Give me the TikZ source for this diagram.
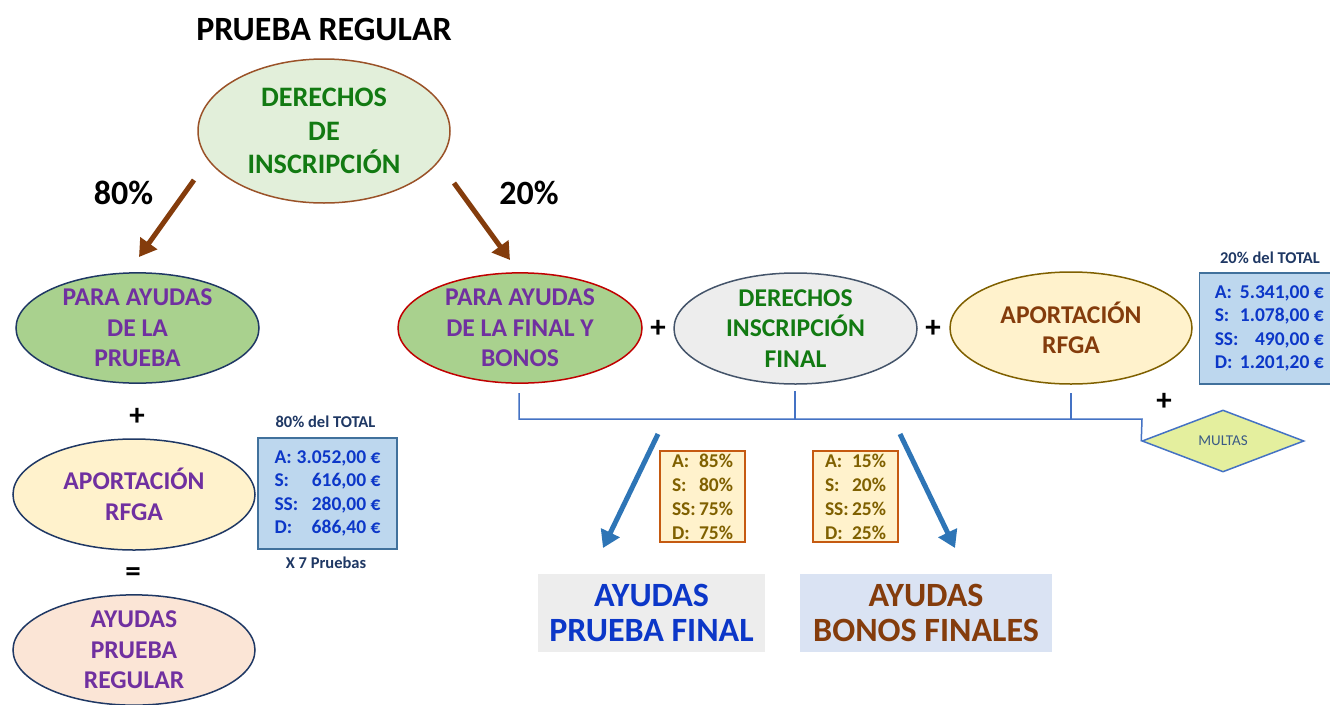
\documentclass[tikz,border=0pt]{standalone}
\usepackage{fontspec}
\setmainfont{Carlito}
\usetikzlibrary{shapes.geometric,arrows.meta}
\definecolor{brownarr}{HTML}{843C0C}
\definecolor{topfill}{HTML}{E2EFDA}
\definecolor{topdraw}{HTML}{9A5228}
\definecolor{greentxt}{HTML}{127A12}
\definecolor{purpletxt}{HTML}{7030A0}
\definecolor{greenfill}{HTML}{A9D18E}
\definecolor{navy}{HTML}{1F3864}
\definecolor{yellowfill}{HTML}{FFF2CC}
\definecolor{peachfill}{HTML}{FBE5D6}
\definecolor{bluefill}{HTML}{BDD7EE}
\definecolor{blueborder}{HTML}{41719C}
\definecolor{bluetxt}{HTML}{0C37C8}
\definecolor{redborder}{HTML}{C00000}
\definecolor{greyfill}{HTML}{EDEDED}
\definecolor{greyborder}{HTML}{44546A}
\definecolor{goldborder}{HTML}{7F6000}
\definecolor{browntxt}{HTML}{843C0C}
\definecolor{bracketblue}{HTML}{4472C4}
\definecolor{limefill}{HTML}{E4EF9E}
\definecolor{multastxt}{HTML}{3A5A85}
\definecolor{bluearr}{HTML}{2E75B6}
\definecolor{orangeborder}{HTML}{C55A11}
\definecolor{goldtxt}{HTML}{7F6000}
\definecolor{palebluefill}{HTML}{DAE3F3}
\newcommand{\kvline}[3]{\makebox[#1][l]{#2\hfill #3}}
\tikzset{
  ell/.style={ellipse, inner sep=0pt, line width=1.5pt, align=center,
    font=\fontsize{25.6}{30.5}\selectfont\bfseries},
  bigtxt/.style={font=\fontsize{34}{40}\selectfont\bfseries, inner sep=0pt},
  signtxt/.style={font=\fontsize{31}{36}\selectfont\bfseries, inner sep=0pt},
  smalltxt/.style={font=\fontsize{16.5}{20}\selectfont\bfseries, text=navy, inner sep=0pt},
  valbox/.style={rectangle, fill=bluefill, draw=blueborder, line width=1.5pt,
    text=bluetxt, align=center, inner sep=0pt, font=\fontsize{19.5}{23.5}\selectfont\bfseries},
  pctbox/.style={rectangle, fill=yellowfill, draw=orangeborder, line width=1.5pt,
    text=goldtxt, align=center, inner sep=0pt, minimum width=85pt, minimum height=91pt,
    font=\fontsize{19.5}{24}\selectfont\bfseries},
  resbox/.style={rectangle, inner sep=0pt, align=center, minimum height=78pt,
    font=\fontsize{34}{35}\selectfont\bfseries},
  brownarrow/.style={draw=brownarr, line width=5pt, -{Triangle[width=20pt,length=17pt]}},
  bluearrow/.style={draw=bluearr, line width=5pt, -{Triangle[width=20pt,length=17pt]}},
  bracket/.style={draw=bracketblue, line width=1.5pt}
}
\begin{document}
\begin{tikzpicture}[x=1pt,y=-1pt]
\path[use as bounding box, fill=white] (0,0) rectangle (1330,704);

% title
\node[bigtxt, anchor=base] (title) at (324,40) {PRUEBA REGULAR};

% top ellipse
\node[ell, fill=topfill, draw=topdraw, text=greentxt, minimum width=252pt, minimum height=144pt,
  font=\fontsize{28.2}{33.7}\selectfont\bfseries] (der) at (324,131) {DERECHOS\\DE\\INSCRIPCIÓN};

% percentage labels
\node[bigtxt, anchor=base] (p80) at (123.5,204) {80\%};
\node[bigtxt, anchor=base] (p20) at (529,204) {20\%};

% brown arrows
\coordinate (a80s) at (194,180);
\coordinate (a80e) at (139,257);
\coordinate (a20s) at (454,183);
\coordinate (a20e) at (510,260);
\draw[brownarrow] (a80s) -- (a80e);
\draw[brownarrow] (a20s) -- (a20e);

% left column
\node[ell, fill=greenfill, draw=navy, text=purpletxt, minimum width=243pt, minimum height=110pt]
  (pap) at (137.5,328) {PARA AYUDAS\\DE LA\\PRUEBA};
\node[signtxt] (plus1) at (137,417) {+};
\node[ell, fill=yellowfill, draw=navy, text=purpletxt, minimum width=242pt, minimum height=111pt]
  (apl) at (134,494.5) {APORTACIÓN\\RFGA};
\node[signtxt] (eq) at (133,575) {=};
\node[ell, fill=peachfill, draw=navy, text=purpletxt, minimum width=242pt, minimum height=106pt]
  (apr) at (134,650) {AYUDAS\\PRUEBA\\REGULAR};

\node[smalltxt, anchor=base] (t80) at (325.5,427.5) {80\% del TOTAL};
\node[valbox, minimum width=139pt, minimum height=111pt] (box80) at (327.5,493.5)
  {\kvline{106pt}{A:}{3.052,00 €}\\\kvline{106pt}{S:}{616,00 €}\\\kvline{106pt}{SS:}{280,00 €}\\\kvline{106pt}{D:}{686,40 €}};
\node[smalltxt, anchor=base] (x7) at (326,568) {X 7 Pruebas};

% right row
\node[ell, fill=greenfill, draw=redborder, text=purpletxt, minimum width=244pt, minimum height=110pt]
  (paf) at (520,328) {PARA AYUDAS\\DE LA FINAL Y\\BONOS};
\node[signtxt] (plus2) at (658,329) {+};
\node[ell, fill=greyfill, draw=greyborder, text=greentxt, minimum width=243pt, minimum height=111pt]
  (dif) at (795.5,328.5) {DERECHOS\\INSCRIPCIÓN\\FINAL};
\node[signtxt] (plus3) at (933,329) {+};
\node[ell, fill=yellowfill, draw=goldborder, text=browntxt, minimum width=242pt, minimum height=112pt]
  (apf) at (1071,328) {APORTACIÓN\\RFGA};

\node[smalltxt, anchor=base] (t20) at (1270,263) {20\% del TOTAL};
\node[valbox, minimum width=140pt, minimum height=111pt, anchor=west] (box20) at (1198.5,328.5)
  {\kvline{109pt}{A:}{5.341,00 €}\\\kvline{109pt}{S:}{1.078,00 €}\\\kvline{109pt}{SS:}{490,00 €}\\\kvline{109pt}{D:}{1.201,20 €}};

\node[signtxt] (plus4) at (1164,402) {+};

% multas diamond
\node[diamond, aspect=2.64, fill=limefill, draw=bracketblue, line width=1.5pt, inner sep=0pt,
  minimum width=162pt, minimum height=62pt, text=multastxt,
  font=\fontsize{15}{18}\selectfont] (mul) at (1223,441) {MULTAS};

% bracket
\coordinate (bl) at (519,393);
\coordinate (blh) at (519,419);
\coordinate (bm) at (795,391);
\coordinate (bmh) at (795,419);
\coordinate (br) at (1071,393);
\coordinate (brh) at (1071,419);
\coordinate (be) at (1142,419);
\draw[bracket] (bl) -- (blh) -- (be) -- (mul.west);
\draw[bracket] (bm) -- (bmh);
\draw[bracket] (br) -- (brh);

% blue arrows
\coordinate (b1s) at (658,434);
\coordinate (b1e) at (603,548);
\coordinate (b2s) at (900,434);
\coordinate (b2e) at (955,548);
\draw[bluearrow] (b1s) -- (b1e);
\draw[bluearrow] (b2s) -- (b2e);

% percentage boxes
\node[pctbox] (pc1) at (702.5,496.5)
  {\kvline{61pt}{A:}{85\%}\\\kvline{61pt}{S:}{80\%}\\\kvline{61pt}{SS:}{75\%}\\\kvline{61pt}{D:}{75\%}};
\node[pctbox] (pc2) at (855.5,496.5)
  {\kvline{61pt}{A:}{15\%}\\\kvline{61pt}{S:}{20\%}\\\kvline{61pt}{SS:}{25\%}\\\kvline{61pt}{D:}{25\%}};

% result boxes
\node[resbox, fill=greyfill, text=bluetxt, minimum width=227pt] (rpf) at (651.5,613) {AYUDAS\\PRUEBA FINAL};
\node[resbox, fill=palebluefill, text=browntxt, minimum width=252pt] (rbf) at (926,613) {AYUDAS\\BONOS FINALES};
\end{tikzpicture}
\end{document}
